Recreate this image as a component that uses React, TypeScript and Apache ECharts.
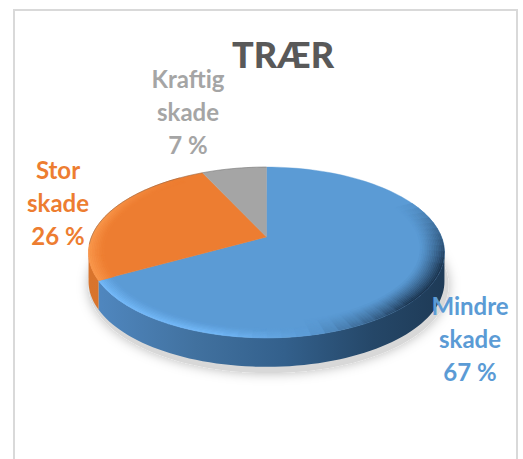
import React, { useEffect, useRef } from "react";
import * as echarts from "echarts";

const categories = ["Mindre skade", "Stor skade", "Kraftig skade"];
const values = [67, 26, 7];
const colors = ["#5b9bd5", "#ed7d31", "#a5a5a5"];
const titleText = "TRÆR";

const W = 523;
const H = 459;
// projected disc: apex and perspective of the tilted pie
const CX = 266.5;
const APEX_Y = 237;
const PERSP = -0.181;
const SCALE_Y = 39.7;
const SCALE_X = 175;
const DEPTH = 29;
const RAD = Math.PI / 180;
const SIDE_FROM = 100.4;
const SIDE_TO = 259.6;
const labelCentres = [
  [470, 338],
  [58, 202],
  [188, 111],
];

const total = values.reduce((a, b) => a + b, 0);
const startAngle = (i: number) => (values.slice(0, i).reduce((a, b) => a + b, 0) / total) * 360;

function project(deg: number, r = 1, dy = 0): number[] {
  const u = Math.sin(deg * RAD) * r;
  const v = -Math.cos(deg * RAD) * r;
  const den = 1 + PERSP * v;
  return [CX + (SCALE_X * u) / den, (SCALE_Y * v + APEX_Y) / den + dy];
}

function arc(a: number, b: number, r = 1, dy = 0): number[][] {
  const n = Math.max(2, Math.ceil(Math.abs(b - a) / 2));
  const pts: number[][] = [];
  for (let i = 0; i <= n; i++) pts.push(project(a + ((b - a) * i) / n, r, dy));
  return pts;
}

function hex(c: string): number[] {
  return [1, 3, 5].map((i) => parseInt(c.slice(i, i + 2), 16));
}
function mix(a: string, b: string, t: number): string {
  const x = hex(a);
  const y = hex(b);
  const k = Math.max(0, Math.min(1, t));
  return "rgb(" + x.map((v, i) => Math.round(v + (y[i] - v) * k)).join(",") + ")";
}
const ramp = (x: number, a: number, b: number) => Math.max(0, Math.min(1, (x - a) / (b - a)));

function rimTint(index: number, deg: number): { tint: string; amount: number } {
  if (index === 0) {
    const light = ramp(deg, 168, 195);
    if (light > 0) return { tint: "#78beff", amount: light * 0.85 };
    const dark = ramp(deg, 62, 110) * (1 - ramp(deg, 135, 168));
    return { tint: "#1c3550", amount: dark };
  }
  if (index === 1) return { tint: "#f9974c", amount: 1 - ramp(deg, 285, 325) };
  return { tint: "#a5a5a5", amount: 0 };
}

function sideFill(index: number) {
  const stops =
    index === 0
      ? [
          { offset: 0, color: "#5189c2" },
          { offset: 0.3, color: "#41719f" },
          { offset: 0.55, color: "#33608c" },
          { offset: 0.8, color: "#254768" },
          { offset: 1, color: "#1e3a56" },
        ]
      : [
          { offset: 0, color: "#d9742c" },
          { offset: 1, color: "#c46726" },
        ];
  return new echarts.graphic.LinearGradient(CX - 178, 0, CX + 178, 0, stops, true);
}

function renderSide(params: any, api: any) {
  const i = params.dataIndex;
  const a = Math.max(startAngle(i), SIDE_FROM);
  const b = Math.min(startAngle(i) + (api.value(0) / total) * 360, SIDE_TO);
  const children: any[] = [];
  if (i === 0) {
    children.push({
      type: "ellipse",
      shape: { cx: CX + 2, cy: 252 + DEPTH + 4, rx: 180, ry: 88 },
      style: { fill: "#d8d8d8", shadowBlur: 12, shadowColor: "rgba(0,0,0,0.28)" },
      silent: true,
    });
  }
  if (b > a) {
    const pts = arc(a, b).concat(arc(b, a, 1, DEPTH));
    children.push({ type: "polygon", shape: { points: pts }, style: { fill: sideFill(i) }, silent: true });
  }
  return { type: "group", children };
}

function renderFace(params: any, api: any) {
  const i = params.dataIndex;
  const a = startAngle(i);
  const b = a + (api.value(0) / total) * 360;
  const base = colors[i];
  const children: any[] = [
    {
      type: "polygon",
      shape: { points: [project(0, 0)].concat(arc(a, b)) },
      style: { fill: base, stroke: base, lineWidth: 0.4 },
      silent: true,
    },
  ];
  const ringCount = 14;
  const ringStep = 0.0095;
  const step = 4;
  for (let d = a; d < b - 0.01; d += step) {
    const e = Math.min(d + step, b);
    const mid = (d + e) / 2;
    const { tint, amount } = rimTint(i, mid);
    if (amount <= 0) continue;
    const reach = i === 0 && mid > 168 ? 8 : i === 1 ? 9 : ringCount;
    for (let k = 0; k < reach; k++) {
      const fade = Math.pow(1 - k / reach, 1.2);
      const r0 = 1 - k * ringStep;
      const r1 = 1 - (k + 1) * ringStep;
      const fill = mix(base, tint, amount * fade);
      children.push({
        type: "polygon",
        shape: { points: [project(d, r0), project(e, r0), project(e, r1), project(d, r1)] },
        style: { fill, stroke: fill, lineWidth: 0.5 },
        silent: true,
      });
    }
  }
  // faint edge along the far rim
  const far = [Math.max(a, 265), Math.min(b, 360)];
  if (far[1] > far[0]) {
    children.push({
      type: "polyline",
      shape: { points: arc(far[0], far[1]) },
      style: { fill: "none", stroke: "rgba(90,90,90,0.35)", lineWidth: 1 },
      silent: true,
    });
  }
  return { type: "group", children };
}

function renderLabel(params: any, api: any) {
  const i = params.dataIndex;
  const [x, y] = labelCentres[i];
  return {
    type: "text",
    silent: true,
    style: {
      x,
      y,
      text: categories[i].replace(" ", "\n") + "\n" + api.value(0) + " %",
      fill: colors[i],
      fontFamily: "Lato",
      fontWeight: "bold",
      fontSize: 24,
      lineHeight: 33,
      align: "center",
      verticalAlign: "middle",
    },
  };
}

export default function App() {
  const ref = useRef<HTMLDivElement>(null);
  useEffect(() => {
    document.body.style.margin = "0";
    const chart = echarts.init(ref.current!, null, { renderer: "svg" });
    const data = values.map((v) => [v]);
    chart.setOption({
      animation: false,
      backgroundColor: "#ffffff",
      title: {
        text: titleText,
        left: 278,
        top: 31,
        textAlign: "center",
        textStyle: { fontFamily: "Lato", fontWeight: 900, fontSize: 36, color: "#595959" },
      },
      graphic: [
        {
          type: "rect",
          silent: true,
          z: -1,
          shape: { x: 14, y: 10, width: 503, height: 470 },
          style: { fill: "#ffffff", stroke: "#d9d9d9", lineWidth: 2 },
        },
      ],
      series: [
        { type: "custom", coordinateSystem: "none", renderItem: renderSide, data, z: 1, silent: true },
        { type: "custom", coordinateSystem: "none", renderItem: renderFace, data, z: 2, silent: true },
        { type: "custom", coordinateSystem: "none", renderItem: renderLabel, data, z: 3, silent: true },
      ],
    });
    return () => chart.dispose();
  }, []);
  return <div ref={ref} style={{ width: W, height: H }} />;
}
